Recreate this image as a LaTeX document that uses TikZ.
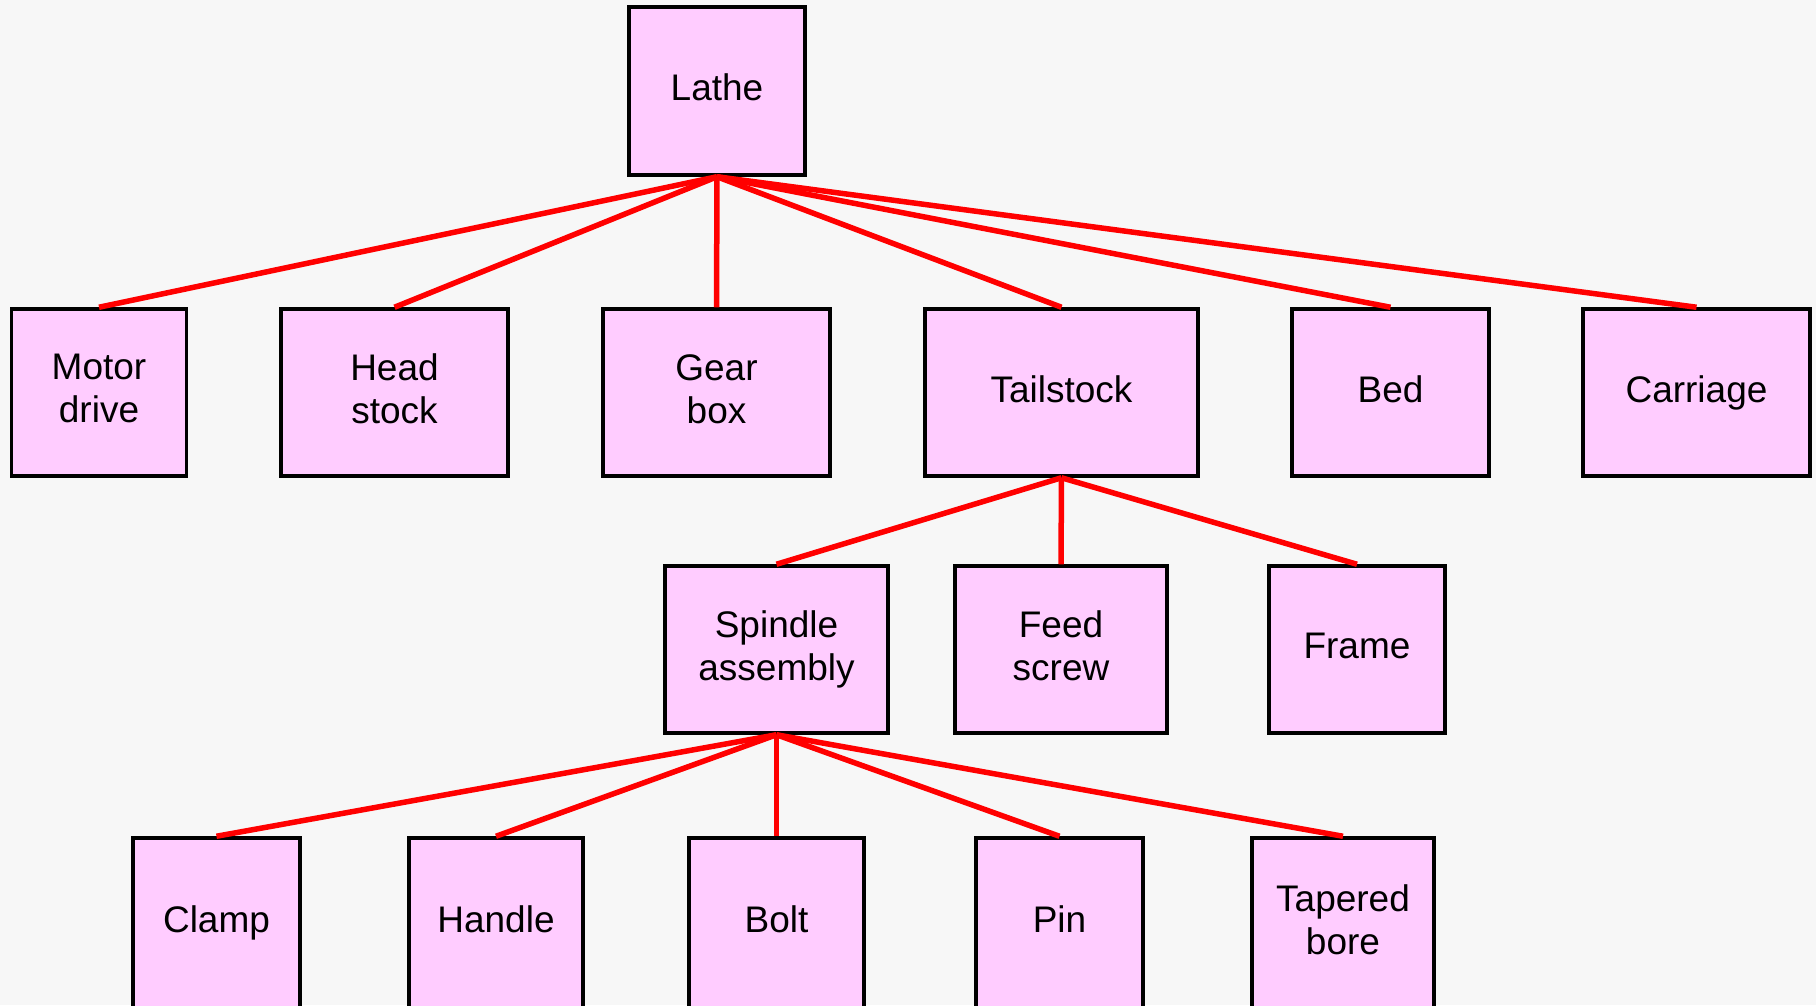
\documentclass[tikz,border=0pt]{standalone}
\usepackage{fontspec}
\setmainfont{Liberation Sans}
\usetikzlibrary{positioning}
\definecolor{lathepink}{HTML}{FFCCFF}
\definecolor{lathered}{HTML}{FF0000}
\definecolor{lathebg}{HTML}{F7F7F7}

\begin{document}
\begin{tikzpicture}[x=1pt, y=-1pt,
    part/.style={
      rectangle, draw=black, line width=3.5pt, fill=lathepink,
      minimum height=167pt, inner sep=0pt, align=center,
      font=\fontsize{37}{43}\selectfont,
      execute at end node={\vphantom{g}}
    },
    link/.style={lathered, line width=5.5pt}
  ]
  \useasboundingbox (0,0) rectangle (1816,1005);
  \clip (0,0) rectangle (1816,1005);
  \fill[lathebg] (0,0) rectangle (1816,1005);

  % Top
  \node[part, minimum width=176pt, minimum height=168pt] (lathe) at (717,91) {Lathe};

  % Second level
  \node[part, minimum width=175pt] (motor) at (99,392.5) {Motor\\drive};
  \node[part, minimum width=227pt] (head) at (394.5,392.5) {Head\\stock};
  \node[part, minimum width=227pt] (gear) at (716.5,392.5) {Gear\\box};
  \node[part, minimum width=273pt] (tail) at (1061.5,392.5) {Tailstock};
  \node[part, minimum width=197pt] (bed) at (1390.5,392.5) {Bed};
  \node[part, minimum width=227pt] (carriage) at (1696.5,392.5) {Carriage};

  % Tailstock parts
  \node[part, minimum width=223pt] (spindle) at (776.5,649.5) {Spindle\\assembly};
  \node[part, minimum width=212pt] (feed) at (1061,649.5) {Feed\\screw};
  \node[part, minimum width=176pt] (frame) at (1357,649.5) {Frame};

  % Spindle parts
  \node[part, minimum width=167pt, minimum height=170pt] (clamp) at (216.5,923) {Clamp};
  \node[part, minimum width=174pt, minimum height=170pt] (handle) at (496,923) {Handle};
  \node[part, minimum width=175pt, minimum height=170pt] (bolt) at (776.5,923) {Bolt};
  \node[part, minimum width=167pt, minimum height=170pt] (pin) at (1059.5,923) {Pin};
  \node[part, minimum width=182pt, minimum height=170pt] (tapered) at (1343,923) {Tapered\\bore};

  % Links
  \foreach \child in {motor, head, gear, tail, bed, carriage}
    \draw[link] (lathe.south) -- (\child.north);
  \foreach \child in {spindle, feed, frame}
    \draw[link] (tail.south) -- (\child.north);
  \foreach \child in {clamp, handle, bolt, pin, tapered}
    \draw[link] (spindle.south) -- (\child.north);
\end{tikzpicture}
\end{document}
